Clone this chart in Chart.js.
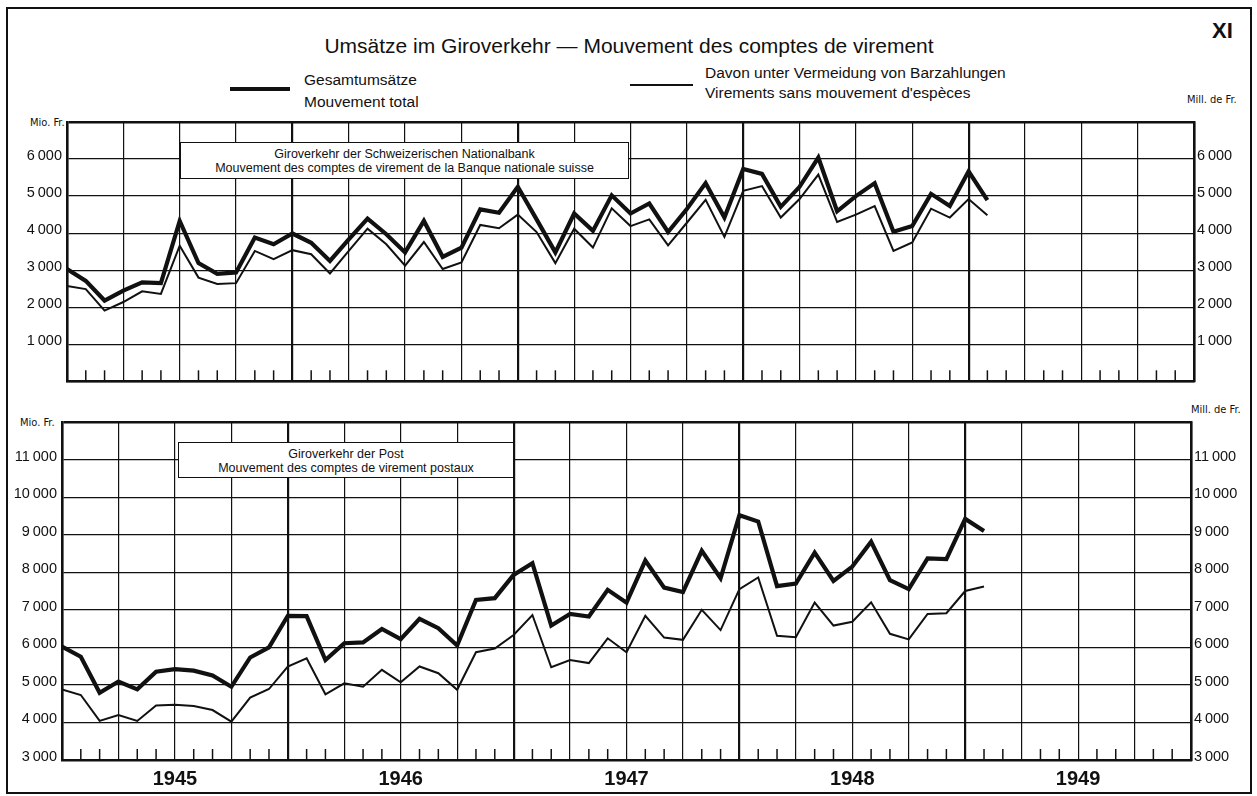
<!DOCTYPE html>
<html>
<head>
<meta charset="utf-8">
<script src="https://cdn.jsdelivr.net/npm/chart.js@4.4.1/dist/chart.umd.min.js"></script>
<style>
  body { margin: 0; background: #fff; }
  #wrap { position: relative; width: 1257px; height: 796px; background: #fff; overflow: hidden;
          font-family: "Liberation Sans", Arial, sans-serif; color: #111; }
  #frame { position: absolute; left: 6px; top: 7px; width: 1246px; height: 787px;
           border: 2px solid #111; box-sizing: border-box; }
  canvas { position: absolute; left: 0; }
  .txt { position: absolute; white-space: nowrap; }
  .small { font-family: "Liberation Sans Narrow", "DejaVu Sans Condensed", sans-serif; font-size: 11px; }
  .box { position: absolute; background: #fff; border: 1.5px solid #111; box-sizing: border-box;
         text-align: center; font-size: 12.5px; line-height: 14px; padding-top: 4px; z-index: 5; }
  .swatch { position: absolute; background: #111; }
</style>
</head>
<body>
<div id="wrap">
  <div id="frame"></div>
  <div class="txt" style="left:0;width:1258px;text-align:center;top:34px;font-size:21px;line-height:24px;">Umsätze im Giroverkehr — Mouvement des comptes de virement</div>
  <div class="txt" style="left:1212px;top:18px;font-size:22px;font-weight:bold;">XI</div>

  <div class="swatch" style="left:230px;top:87px;width:60px;height:4px;"></div>
  <div class="txt" style="left:304px;top:71px;font-size:15.5px;line-height:18px;">Gesamtumsätze</div>
  <div class="txt" style="left:304px;top:93px;font-size:15.5px;line-height:18px;">Mouvement total</div>
  <div class="swatch" style="left:630px;top:84px;width:63px;height:2px;"></div>
  <div class="txt" style="left:705px;top:64px;font-size:15.5px;line-height:18px;">Davon unter Vermeidung von Barzahlungen</div>
  <div class="txt" style="left:705px;top:84px;font-size:15.5px;line-height:18px;">Virements sans mouvement d'espèces</div>

  <div class="txt small" style="left:30px;top:116px;">Mio. Fr.</div>
  <div class="txt small" style="left:1187px;top:93px;">Mill. de Fr.</div>
  <div class="txt small" style="left:20px;top:416px;">Mio. Fr.</div>
  <div class="txt small" style="left:1191px;top:403px;">Mill. de Fr.</div>

  <div class="box" style="left:180px;top:142px;width:449px;height:37px;">Giroverkehr der Schweizerischen Nationalbank<br>Mouvement des comptes de virement de la Banque nationale suisse</div>
  <div class="box" style="left:178px;top:442px;width:336px;height:36px;">Giroverkehr der Post<br>Mouvement des comptes de virement postaux</div>

  <canvas id="snbChart" width="1257" height="295" style="top:100px;"></canvas>
  <canvas id="postChart" width="1257" height="401" style="top:395px;"></canvas>
</div>

<script>
// months shown (Jan 1945 - Feb 1949), axis runs over the five years
const months = [
  '1945-01','1945-02','1945-03','1945-04','1945-05','1945-06','1945-07','1945-08','1945-09','1945-10','1945-11','1945-12',
  '1946-01','1946-02','1946-03','1946-04','1946-05','1946-06','1946-07','1946-08','1946-09','1946-10','1946-11','1946-12',
  '1947-01','1947-02','1947-03','1947-04','1947-05','1947-06','1947-07','1947-08','1947-09','1947-10','1947-11','1947-12',
  '1948-01','1948-02','1948-03','1948-04','1948-05','1948-06','1948-07','1948-08','1948-09','1948-10','1948-11','1948-12',
  '1949-01','1949-02'
];
const years = ['1945', '1946', '1947', '1948', '1949'];

// Schweizerische Nationalbank, Mio. Fr.
const snbTotal = [
  3030, 2710, 2180, 2450, 2670, 2650, 4330, 3190, 2900, 2940,
  3880, 3700, 3990, 3740, 3250, 3830, 4390, 3970, 3480, 4330,
  3360, 3610, 4640, 4550, 5250, 4370, 3480, 4530, 4060, 5020,
  4530, 4800, 4030, 4650, 5350, 4420, 5730, 5600, 4710, 5250,
  6040, 4590, 5000, 5350, 4040, 4190, 5060, 4730, 5670, 4890
];
const snbCashless = [
  2570, 2490, 1910, 2140, 2430, 2360, 3660, 2800, 2630, 2650,
  3520, 3300, 3540, 3430, 2910, 3520, 4120, 3700, 3120, 3760,
  3030, 3210, 4220, 4130, 4500, 4030, 3190, 4120, 3610, 4670,
  4190, 4370, 3670, 4280, 4900, 3900, 5140, 5270, 4420, 4920,
  5580, 4300, 4500, 4730, 3520, 3750, 4660, 4420, 4920, 4480
];

// Post, Mio. Fr.
const postTotal = [
  6020, 5750, 4790, 5090, 4880, 5350, 5420, 5380, 5250, 4950,
  5730, 6000, 6840, 6830, 5660, 6110, 6130, 6490, 6220, 6760,
  6510, 6050, 7260, 7310, 7930, 8240, 6580, 6890, 6820, 7530,
  7190, 8310, 7590, 7470, 8570, 7840, 9520, 9350, 7630, 7700,
  8520, 7770, 8150, 8810, 7790, 7550, 8370, 8350, 9420, 9100
];
const postCashless = [
  4880, 4730, 4040, 4200, 4040, 4450, 4470, 4440, 4330, 4020,
  4660, 4890, 5490, 5710, 4750, 5040, 4950, 5400, 5070, 5490,
  5310, 4870, 5870, 5970, 6330, 6860, 5470, 5660, 5580, 6240,
  5870, 6840, 6260, 6200, 7000, 6460, 7550, 7860, 6310, 6270,
  7190, 6580, 6680, 7200, 6360, 6210, 6890, 6910, 7500, 7620
];

// y tick labels, one per 1000 step from min to max
const snbTickLabels = ['', '1\u2009000', '2\u2009000', '3\u2009000', '4\u2009000', '5\u2009000', '6\u2009000', ''];
const postTickLabels = ['3\u2009000', '4\u2009000', '5\u2009000', '6\u2009000', '7\u2009000', '8\u2009000',
                        '9\u2009000', '10\u2009000', '11\u2009000', ''];

const INK = '#111';
const nMonths = years.length * 12;

// short month ticks standing on the x axis
const monthTicks = {
  id: 'monthTicks',
  afterDatasetsDraw(chart) {
    const xs = chart.scales.x;
    const bottom = chart.chartArea.bottom;
    const ctx = chart.ctx;
    ctx.save();
    ctx.strokeStyle = INK;
    ctx.lineWidth = 1.5;
    for (let m = 1; m < nMonths; m++) {
      if (m % 3 === 0) continue;
      const px = xs.getPixelForValue(m);
      ctx.beginPath();
      ctx.moveTo(px, bottom);
      ctx.lineTo(px, bottom - 11);
      ctx.stroke();
    }
    ctx.restore();
  }
};

function series(values) {
  return values.map((v, i) => ({ x: i, y: v }));
}

function makeChart(id, total, cashless, yMin, yMax, tickLabels, o) {
  const yTicks = {
    stepSize: 1000,
    autoSkip: false,
    padding: 5,
    labelOffset: -3,
    color: INK,
    font: { family: 'Liberation Sans', size: 14.5 },
    callback: v => tickLabels[Math.round((v - yMin) / 1000)]
  };
  return new Chart(document.getElementById(id), {
    type: 'line',
    data: {
      datasets: [
        { label: 'Gesamtumsätze', data: series(total), borderColor: INK, borderWidth: 4.2,
          pointRadius: 0, tension: 0, borderJoinStyle: 'miter' },
        { label: 'Davon unter Vermeidung von Barzahlungen', data: series(cashless), borderColor: INK,
          borderWidth: 2, pointRadius: 0, tension: 0, borderJoinStyle: 'miter' }
      ]
    },
    options: {
      responsive: false,
      animation: false,
      devicePixelRatio: 1,
      layout: { padding: { top: o.padTop, left: 0, right: 0, bottom: 0 } },
      plugins: { legend: { display: false }, tooltip: { enabled: false } },
      scales: {
        x: {
          type: 'linear',
          min: 0,
          max: nMonths,
          afterFit: s => { s.height = o.xHeight; },
          grid: {
            color: INK,
            drawTicks: false,
            lineWidth: c => (c.tick && c.tick.value % 12 === 0) ? 2.2 : 1.2
          },
          border: { display: true, color: INK, width: 2.5 },
          ticks: {
            display: o.showYears,
            stepSize: 3,
            autoSkip: false,
            maxRotation: 0,
            padding: 7,
            color: INK,
            font: { family: 'Liberation Sans', size: 20, weight: 'bold' },
            callback: v => (v % 12 === 6) ? years[(v - 6) / 12] : ''
          }
        },
        y: {
          min: yMin,
          max: yMax,
          afterFit: s => { s.width = o.leftW; },
          grid: {
            color: INK,
            drawTicks: false,
            lineWidth: c => (c.tick && c.tick.value === yMax) ? 2.5 : 1.2
          },
          border: { display: true, color: INK, width: 2.5 },
          ticks: yTicks
        },
        y2: {
          position: 'right',
          min: yMin,
          max: yMax,
          afterFit: s => { s.width = o.rightW; },
          grid: { drawOnChartArea: false, drawTicks: false },
          border: { display: true, color: INK, width: 2.5 },
          ticks: Object.assign({}, yTicks, { padding: 3 })
        }
      }
    },
    plugins: [monthTicks]
  });
}

makeChart('snbChart', snbTotal, snbCashless, 0, 7000, snbTickLabels,
  { padTop: 22, xHeight: 12, leftW: 67, rightW: 63, showYears: false });
makeChart('postChart', postTotal, postCashless, 3000, 12000, postTickLabels,
  { padTop: 27, xHeight: 36, leftW: 62, rightW: 66, showYears: true });
</script>
</body>
</html>
